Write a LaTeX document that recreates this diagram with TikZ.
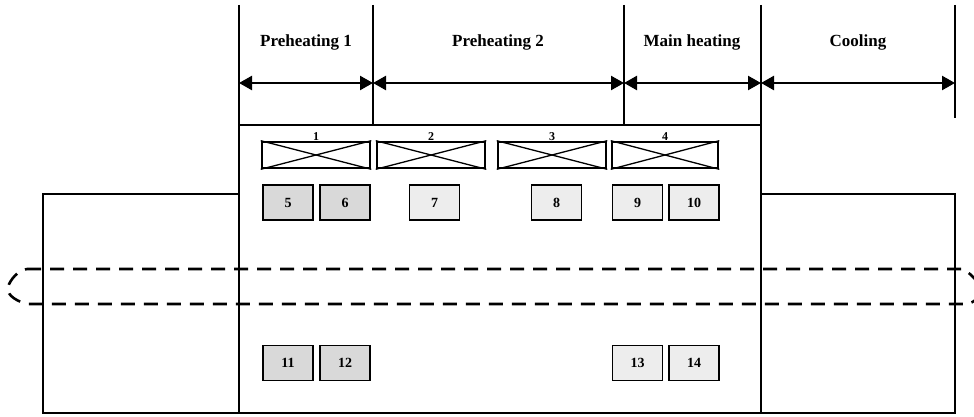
\documentclass[tikz,border=0pt]{standalone}
\usepackage{fontspec}
\setmainfont{Liberation Serif}
\usetikzlibrary{arrows.meta}
\begin{document}
\begin{tikzpicture}[x=1pt,y=-1pt,
 heater/.style={draw,line width=2.6pt,minimum width=108pt,minimum height=26pt,inner sep=0pt},
 sensorA/.style={draw,line width=1.5pt,fill=gray!30,minimum width=50pt,minimum height=35pt,inner sep=0pt,font=\bfseries\fontsize{14}{14}\selectfont},
 sensorB/.style={sensorA,fill=gray!14},
 hlabel/.style={font=\bfseries\fontsize{12}{12}\selectfont,inner sep=0pt},
 zone/.style={font=\bfseries\fontsize{17}{17}\selectfont},
 dim/.style={line width=2.4pt,{Triangle[length=13pt,width=14pt]}-{Triangle[length=13pt,width=14pt]}},
 wall/.style={line width=1.7pt},
 belt/.style={line width=2.6pt,dash pattern=on 14pt off 9pt}
]
\useasboundingbox (0,0) rectangle (974,417);
\clip (0,0) rectangle (974,417);

% zone boundaries
\coordinate (t0) at (239,5);   \coordinate (d0) at (239,83);
\coordinate (t1) at (373,5);   \coordinate (d1) at (373,83);  \coordinate (b1) at (373,125);
\coordinate (t2) at (624,5);   \coordinate (d2) at (624,83);  \coordinate (b2) at (624,125);
\coordinate (t3) at (761,5);   \coordinate (d3) at (761,83);
\coordinate (t4) at (955,5);   \coordinate (d4) at (955,83);  \coordinate (b4) at (955,118);

% furnace and side boxes
\draw[wall] (239,125) rectangle (761,413);
\draw[wall] (43,194) rectangle (239,413);
\draw[wall] (761,194) rectangle (955,413);
\draw[wall] (t0) -- (239,125);
\draw[wall] (t1) -- (b1);
\draw[wall] (t2) -- (b2);
\draw[wall] (t3) -- (761,125);
\draw[wall] (t4) -- (b4);

% dimension arrows
\draw[dim] (d0) -- (d1);
\draw[dim] (d1) -- (d2);
\draw[dim] (d2) -- (d3);
\draw[dim] (d3) -- (d4);

% zone labels
\node[zone] (z1) at (306,42) {Preheating 1};
\node[zone] (z2) at (498,42) {Preheating 2};
\node[zone] (z3) at (692,42) {Main heating};
\node[zone] (z4) at (858,42) {Cooling};

% heaters
\node[heater,label={[hlabel]above:1}] (h1) at (316,155) {};
\node[heater,label={[hlabel]above:2}] (h2) at (431,155) {};
\node[heater,label={[hlabel]above:3}] (h3) at (552,155) {};
\node[heater,minimum width=106pt,label={[hlabel]above:4}] (h4) at (665,155) {};
\foreach \h in {h1,h2,h3,h4}{
  \draw[line width=1.3pt] (\h.north west) -- (\h.south east);
  \draw[line width=1.3pt] (\h.south west) -- (\h.north east);
}

% sensors
\node[sensorA] (s5)  at (288,202.5) {5};
\node[sensorA] (s6)  at (345,202.5) {6};
\node[sensorB] (s7)  at (434.5,202.5) {7};
\node[sensorB] (s8)  at (556.5,202.5) {8};
\node[sensorB] (s9)  at (637.5,202.5) {9};
\node[sensorB] (s10) at (694,202.5) {10};
\node[sensorA] (s11) at (288,363) {11};
\node[sensorA] (s12) at (345,363) {12};
\node[sensorB] (s13) at (637.5,363) {13};
\node[sensorB] (s14) at (694,363) {14};

% conveyor belt
\draw[belt] (27,269) -- (963,269) .. controls (978,278) and (990,296) .. (968,304)
  -- (27,304) .. controls (12,300) and (6,292) .. (8,287)
  .. controls (10,280) and (18,270) .. (27,269);
\end{tikzpicture}
\end{document}
